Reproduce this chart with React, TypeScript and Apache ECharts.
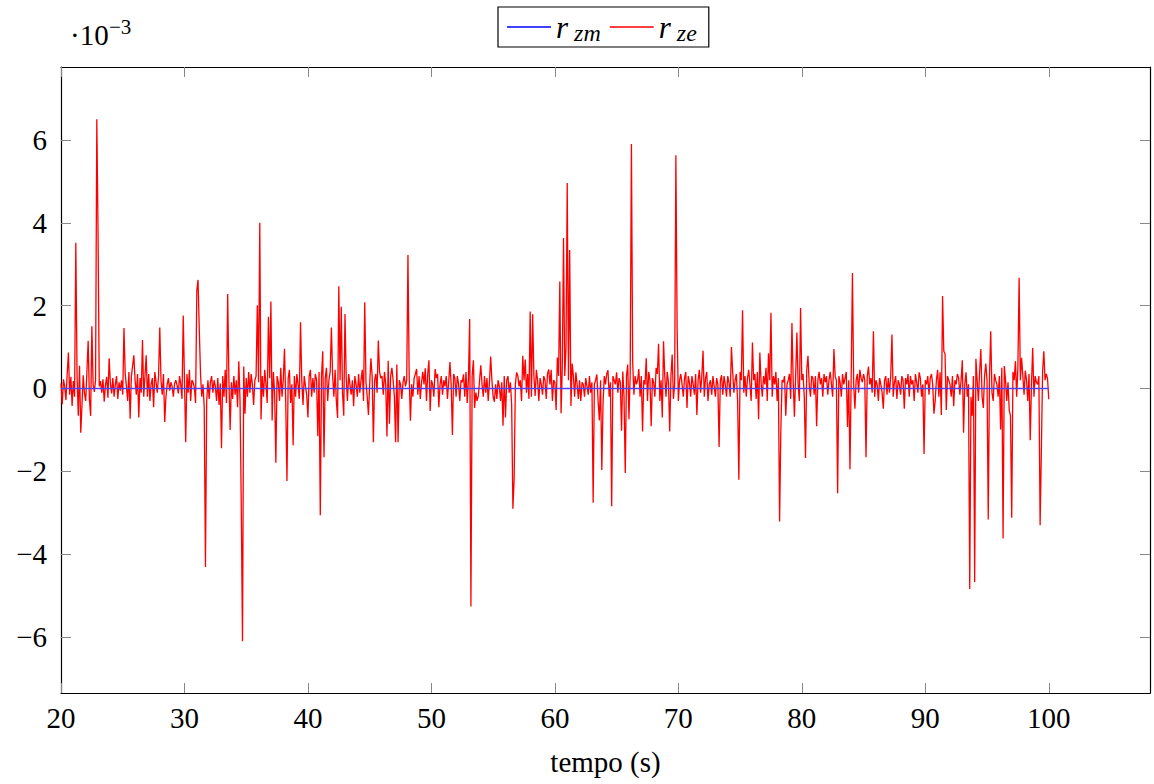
import React, { useEffect, useRef } from "react";
import * as echarts from "echarts";

// sampling of r_ze: starts at 20 s, every 0.1 s, up to 100 s
const timeStart = 20;
const timeStep = 0.1;

// r_ze values (×10^-3), one row per second
const rzeValues = [
  0.12, -0.38, 0.22, 0.05, -0.28, 0.35, 0.87, -0.15, 0.28, -0.42,
  0.18, -0.2, 3.52, 0.3, -0.66, 0.55, -1.07, -0.4, 0.32, -0.12,
  -0.3, 0.42, 1.15, -0.25, -0.66, 1.5, 0.1, -0.08, 0.2, 6.5,
  3.76, 0.05, 0.18, -0.1, 0.22, -0.32, 0.08, 0.28, -0.22, 0.73,
  0.12, -0.12, 0.25, -0.2, 0.1, 0.3, -0.25, 0.15, -0.05, 0.2,
  -0.15, 1.46, 0.35, 0.05, -0.3, 0.4, -0.73, 0.3, 0.55, 0.8,
  0.2, -0.15, 0.35, -0.7, 0.25, -0.1, 1.17, -0.2, 0.3, 0.8,
  -0.2, 0.35, -0.3, 0.1, 0.25, -0.45, 0.4, 0.15, -0.1, 0.3,
  1.47, 0.2, -0.15, 0.35, -0.81, -0.2, 0.1, 0.25, -0.05, 0.15,
  0.05, -0.2, 0.12, 0.2, 0.08, -0.12, 0.3, 0.1, -0.25, 1.76,
  0.2, -1.3, 0.35, -0.1, 0.45, -0.3, 0.2, 0.15, 0.02, -0.35,
  2.37, 2.62, 1.42, 0.35, -0.2, 0.1, -0.45, -4.31, -0.3, 0.2,
  -0.25, 0.15, 0.3, -0.1, 0.2, 0.05, -0.3, 0.25, -0.4, 0.12,
  -1.44, 0.3, -0.2, 0.45, -0.35, 2.28, 0.2, -1.0, 0.15, -0.25,
  0.3, -0.15, 0.2, -0.45, 0.66, -0.3, -2.84, -6.1, 0.53, -0.61,
  0.25, -0.2, 0.4, -0.1, 0.35, 0.1, -0.4, 0.2, 0.3, 2.01,
  0.15, 4.0, -0.75, 0.3, -0.2, 0.45, 0.1, -0.35, 1.73, 0.25,
  2.1, -0.77, 0.4, -0.1, -1.79, 0.3, 0.15, -0.3, 0.5, -0.2,
  0.2, 0.96, -0.3, -2.23, 0.25, 0.45, -0.35, 0.1, -1.37, 0.3,
  -0.2, 0.35, 0.1, -0.25, 1.6, 0.2, -0.4, 0.3, 0.05, -0.15,
  -0.7, 0.3, 0.45, -0.2, 0.25, -0.1, 0.35, 0.2, -1.15, 0.4,
  -3.06, 0.3, 0.9, -1.66, 0.25, 0.5, -0.3, 0.2, 0.4, 1.47,
  0.3, -0.2, 0.45, -0.3, -0.71, 2.47, 0.2, 1.97, -0.1, -0.66,
  1.8, 0.25, -0.3, 0.35, 0.1, -0.15, 0.2, -0.43, 0.3, 0.1,
  -0.2, 0.35, -0.1, 0.2, 0.45, -0.3, 2.08, 0.15, -0.2, -0.64,
  0.1, 0.73, 0.3, -1.3, 0.2, 0.35, -0.1, 1.16, 0.4, 0.25,
  0.3, -0.15, 0.4, 0.1, -1.16, 0.67, -0.85, 0.3, 0.5, 0.2,
  -0.2, -1.3, 0.58, -1.3, 0.2, 0.1, -0.25, 0.15, 0.3, 0.05,
  0.2, 3.22, 0.3, -0.78, 0.1, -0.2, 0.25, 0.35, 0.47, -0.15,
  0.3, -0.25, 0.15, 0.4, 0.1, 0.49, -0.3, 0.35, 0.68, -0.54,
  0.2, 0.1, -0.2, 0.47, 0.25, 0.35, -0.45, 0.1, 0.3, -0.15,
  0.2, 0.05, 0.3, -0.25, 0.15, 0.64, 0.1, -1.12, 0.35, 0.25,
  -0.2, 0.3, 0.1, -0.3, 0.2, 0.15, 0.34, -0.2, 0.4, -0.35,
  0.25, 1.68, -5.26, 0.3, 0.68, -0.47, -0.1, -0.3, -0.18, 0.2,
  0.56, 0.1, -0.2, 0.3, -0.1, 0.25, -0.3, 0.15, 0.77, 0.2,
  -0.2, -0.32, 0.1, -0.25, 0.2, 0.05, -0.3, 0.15, -0.9, 0.3,
  -0.7, 0.2, 0.3, -0.1, 0.15, -0.4, -2.9, -2.19, 0.1, 0.39,
  0.3, 0.05, 0.2, -0.3, 0.79, 0.2, 0.7, -0.1, 0.35, -0.25,
  1.86, -0.2, 1.79, 0.3, -0.18, 0.45, 0.2, -0.3, 0.25, 0.1,
  -0.15, 0.3, 0.2, -0.25, 0.35, 0.46, 0.1, 0.45, -0.3, 0.2,
  0.15, -0.52, 0.75, 0.3, 2.58, -0.6, 0.5, 3.63, 0.3, 0.98,
  4.96, 0.2, 3.34, -0.42, 0.6, 0.3, -0.2, 0.39, 0.1, -0.25,
  0.2, -0.3, 0.15, 0.1, -0.2, 0.25, 0.05, -0.15, 0.3, -0.1,
  0.15, -2.76, 0.1, 0.2, 0.34, -0.3, -0.77, 0.2, -1.97, -0.37,
  0.3, 0.1, 0.35, 0.44, -0.2, 0.15, -2.84, 0.3, 0.2, 0.1,
  0.39, -0.1, 0.25, 0.15, -1.02, 0.41, -0.2, -2.04, 0.3, 0.58,
  -0.74, 0.35, 5.9, 0.66, -0.15, 0.3, 0.1, 0.2, 0.47, -0.2,
  0.3, -1.04, 0.2, 0.1, 0.73, -0.3, 0.4, 0.2, -0.91, 0.25,
  0.15, -0.2, 0.5, 0.35, 1.08, -0.3, 0.2, -0.7, 1.14, 0.3,
  -0.2, 0.4, 0.15, -1.04, 0.3, 0.82, -0.25, 0.1, 5.63, 1.46,
  -0.3, 0.2, 0.35, 0.1, -0.2, 0.25, 0.4, -0.47, 0.3, 0.15,
  -0.2, 0.3, 0.1, -0.15, 0.35, -0.64, 0.2, 0.45, -0.1, 0.3,
  0.91, -0.2, 0.25, 0.4, -0.3, 0.1, 0.2, -0.15, 0.3, 0.05,
  -0.2, 0.25, 0.1, -1.41, 0.2, 0.32, -0.15, 0.3, 0.1, -0.2,
  0.3, 0.15, -0.2, 1.0, 0.4, -0.1, 0.2, 0.35, -0.3, -2.2,
  0.4, 0.2, 1.89, -0.1, 0.3, -0.2, 0.25, 0.45, 0.1, -0.3,
  1.11, 0.2, 0.35, -0.25, 0.4, -0.74, 0.87, 0.15, -0.2, 0.3,
  0.1, 0.5, -0.3, 0.85, 0.2, 1.83, -0.2, 0.3, 0.1, 0.4,
  -0.3, 0.25, -3.21, -1.02, 0.2, 0.15, 0.3, -0.66, 0.1, 0.2,
  0.35, -0.25, 1.58, 0.2, -0.68, 0.3, 1.35, 0.1, -0.3, 1.94,
  0.2, 0.35, -0.2, -1.68, 0.45, 0.79, 0.1, -0.2, 0.3, 0.25,
  -0.15, 0.3, -0.91, 0.2, 0.4, 0.1, 0.25, -0.2, 0.35, 0.15,
  0.3, -0.15, 0.2, 0.4, 0.1, -0.2, 0.95, 0.3, 0.2, -2.53,
  0.3, 0.15, -0.2, 0.35, 0.1, 0.25, 0.4, -0.93, 0.2, -1.95,
  0.3, 2.79, 0.1, -0.49, 0.2, 0.35, -0.1, 0.45, 0.25, 0.15,
  0.35, 0.2, -1.66, 0.3, 0.53, 0.1, 0.25, -0.1, 1.38, -0.2,
  0.2, 0.1, -0.3, 0.25, 0.1, -0.1, -0.49, 0.2, 0.3, -0.15,
  0.25, -0.1, 0.3, 1.3, -0.2, 0.15, 0.3, -0.25, 0.2, 0.1,
  -0.15, 0.3, 0.2, -0.49, 0.25, 0.1, 0.35, -0.2, 0.3, 0.1,
  0.2, -0.3, 0.35, 0.15, -0.1, 0.39, 0.25, -0.2, 0.1, -1.58,
  0.2, 0.1, 0.3, -0.15, 0.25, 0.35, 0.1, -0.61, -0.3, 0.2,
  0.45, -0.2, 0.39, -0.64, 2.23, 0.9, 0.84, -0.52, 0.3, 0.2,
  0.1, -0.2, 0.3, -0.43, 0.2, 0.1, 0.35, 0.25, -0.15, 0.2,
  0.68, -1.07, 0.1, 0.39, -0.2, 0.1, -4.84, -0.2, -0.66, 0.3,
  -4.67, 0.72, 0.2, -0.3, 0.4, 0.95, -0.2, -0.47, 0.3, 0.6,
  0.2, -3.16, 0.3, 1.38, -0.1, -0.3, 0.35, 0.2, 0.1, -0.2,
  0.3, -0.99, 0.5, -3.62, 0.54, 0.2, -0.3, 0.15, -0.53, -0.66,
  -3.12, 0.4, 0.2, 0.66, -0.2, 0.5, 2.67, 0.2, 0.74, 0.3,
  -0.15, 0.43, 0.2, -0.3, 0.35, -1.25, 0.1, 0.98, -0.2, 0.3,
  0.15, 0.1, 0.3, -3.3, -1.52, 0.4, 0.9, 0.2, 0.35, 0.24,
  -0.26,
];

// r_zm stays at zero over the whole run
const rzmTimes = [20, 100];
const rzmValues = [0, 0];

const xTicks = [20, 30, 40, 50, 60, 70, 80, 90, 100];
const yTicks = [-6, -4, -2, 0, 2, 4, 6];

const FONT = "Liberation Serif";

export default function App() {
  const ref = useRef<HTMLDivElement>(null);

  useEffect(() => {
    if (!ref.current) return;
    const chart = echarts.init(ref.current, null, { renderer: "svg" });

    const rzeData = rzeValues.map((v, i) => [
      Math.round((timeStart + i * timeStep) * 10) / 10,
      v,
    ]);
    const rzmData = rzmTimes.map((t, i) => [t, rzmValues[i]]);

    const axisLine = { show: true, onZero: false, lineStyle: { color: "#000", width: 1.2 } };
    const tickStyle = { color: "#888", width: 1 };

    const fmt = (v: number) => (v < 0 ? "\u2212" + Math.abs(v) : String(v));

    chart.setOption({
      animation: false,
      backgroundColor: "#fff",
      textStyle: { fontFamily: FONT },
      grid: {
        left: 61,
        right: 4,
        top: 67,
        bottom: 91,
        containLabel: false,
        outerBoundsMode: "none",
      },
      legend: {
        left: 498,
        top: 7,
        padding: [2, 9, 2, 9],
        itemGap: 6,
        itemWidth: 44,
        itemHeight: 1.5,
        icon: "rect",
        borderColor: "#000",
        borderWidth: 1.2,
        borderRadius: 0,
        data: ["r_zm", "r_ze"],
        formatter: (n: string) => `{r|r}{s|${n.split("_")[1]}}`,
        textStyle: {
          fontFamily: FONT,
          color: "#000",
          rich: {
            r: {
              fontFamily: FONT,
              fontStyle: "italic",
              fontSize: 31,
              lineHeight: 36,
              color: "#000",
              padding: [0, 6, 0, 0],
            },
            s: {
              fontFamily: FONT,
              fontStyle: "italic",
              fontSize: 24,
              lineHeight: 36,
              color: "#000",
              padding: [12, 3, 0, 0],
            },
          },
        },
      },
      xAxis: [
        {
          type: "value",
          position: "bottom",
          min: 20,
          max: 108.2,
          splitLine: { show: false },
          axisLine,
          axisTick: {
            show: true,
            inside: true,
            length: 10,
            customValues: xTicks,
            lineStyle: tickStyle,
          },
          axisLabel: {
            customValues: xTicks,
            margin: 10,
            fontSize: 29,
            fontFamily: FONT,
            color: "#000",
          },
          name: "tempo (s)",
          nameLocation: "middle",
          nameGap: 54,
          nameTextStyle: { fontSize: 29, fontFamily: FONT, color: "#000" },
        },
        {
          type: "value",
          position: "top",
          min: 20,
          max: 108.2,
          splitLine: { show: false },
          axisLine,
          axisTick: {
            show: true,
            inside: true,
            length: 10,
            customValues: xTicks,
            lineStyle: tickStyle,
          },
          axisLabel: { show: false },
        },
      ],
      yAxis: [
        {
          type: "value",
          position: "left",
          min: -7.35,
          max: 7.76,
          splitLine: { show: false },
          axisLine,
          axisTick: {
            show: true,
            inside: true,
            length: 10,
            customValues: yTicks,
            lineStyle: tickStyle,
          },
          axisLabel: {
            customValues: yTicks,
            margin: 14,
            fontSize: 29,
            fontFamily: FONT,
            color: "#000",
            formatter: fmt,
          },
        },
        {
          type: "value",
          position: "right",
          min: -7.35,
          max: 7.76,
          splitLine: { show: false },
          axisLine,
          axisTick: {
            show: true,
            inside: true,
            length: 10,
            customValues: yTicks,
            lineStyle: tickStyle,
          },
          axisLabel: { show: false },
        },
      ],
      graphic: [
        {
          type: "text",
          left: 70,
          top: 20,
          style: {
            text: "\u00b710",
            fontSize: 29,
            fontFamily: FONT,
            fill: "#000",
          },
        },
        {
          type: "text",
          left: 109,
          top: 16,
          style: {
            text: "\u22123",
            fontSize: 21,
            fontFamily: FONT,
            fill: "#000",
          },
        },
      ],
      series: [
        {
          name: "r_ze",
          type: "line",
          data: rzeData,
          symbol: "none",
          lineStyle: { color: "#ff0000", width: 1.3 },
          itemStyle: { color: "#ff0000" },
          silent: true,
          z: 2,
        },
        {
          name: "r_zm",
          type: "line",
          data: rzmData,
          symbol: "none",
          lineStyle: { color: "#4646ff", width: 1.5 },
          itemStyle: { color: "#0000ff" },
          silent: true,
          z: 3,
        },
      ],
    });

    return () => chart.dispose();
  }, []);

  return (
    <div
      ref={ref}
      style={{ position: "fixed", left: 0, top: 0, width: 1154, height: 784, background: "#fff" }}
    />
  );
}
